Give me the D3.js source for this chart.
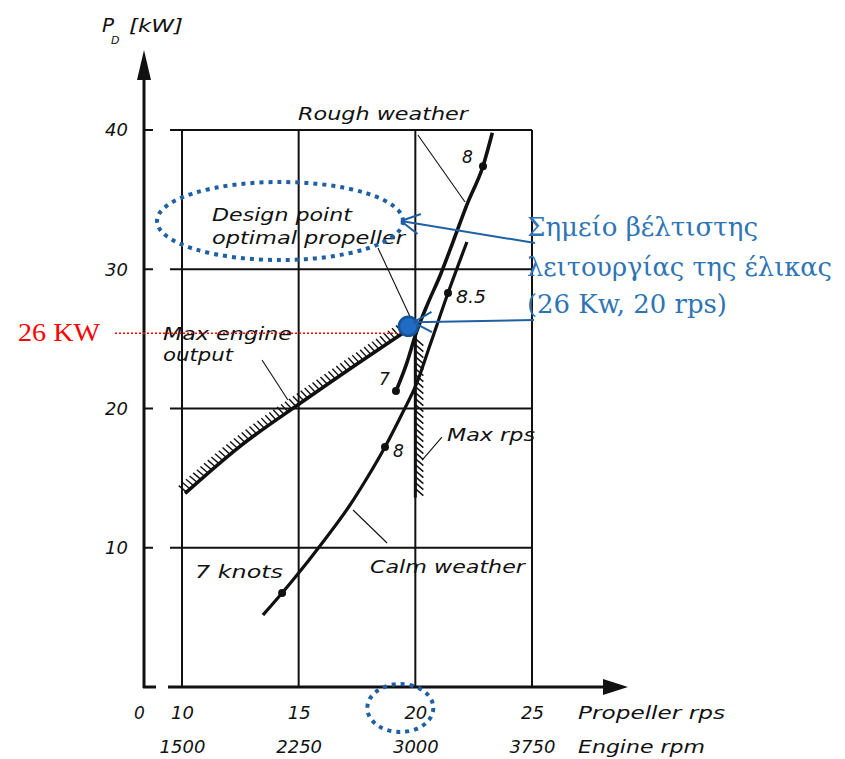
<!DOCTYPE html>
<html>
<head>
<meta charset="utf-8">
<script src="https://cdn.jsdelivr.net/npm/d3@7"></script>
<style>
  body { margin: 0; background: #fff; }
  .lbl { font-family: "DejaVu Sans", sans-serif; font-style: italic; font-size: 17px; fill: #111; }
  .tick text { font-family: "DejaVu Sans", sans-serif; font-style: italic; font-size: 18px; fill: #111; }
</style>
</head>
<body>
<svg id="chart" width="845" height="759"></svg>
<script>
// axis ticks
var rpsTicks = [10, 15, 20, 25];
var rpmLabels = ['1500', '2250', '3000', '3750'];
var kwTicks = [10, 20, 30, 40];

// propeller curves [rps, kW]
var calmWeather = [[13.47, 5.17], [14.29, 6.75], [14.93, 8.04], [15.91, 10.13], [17.2, 13.07], [17.93, 15.01],
  [18.7, 17.24], [19.47, 19.75], [20.03, 21.69], [20.63, 24.56], [21.4, 28.29], [22.21, 31.96]];
var roughWeather = [[19.17, 21.25], [19.6, 23.1], [20.05, 25.5], [20.55, 27.6], [21.05, 29.5], [21.6, 31.9],
  [22.25, 34.8], [22.9, 37.4], [23.3, 39.8]];
var maxEngineOutput = [[10.13, 13.9], [12.5, 17.3], [15.0, 20.3], [17.5, 23.2], [19.8, 25.8]];
var maxRpsLine = [[20, 13.6], [20, 26]];

// speed points (knots) on the curves
var calmDots = [[14.29, 6.75], [18.7, 17.24], [21.4, 28.29]];
var roughDots = [[19.17, 21.25], [22.9, 37.4]];

// annotation values
var designPoint = [19.7, 25.9];
var markedKw = 25.4;

var svg = d3.select('#chart');
var x = d3.scaleLinear().domain([10, 25]).range([182, 532]);
var y = d3.scaleLinear().domain([0, 40]).range([687, 130]);
var axisX = x(10) - 38;   // broken origin
var gapEnd = x(10) - 12;
var line = d3.line().x(function(d) { return x(d[0]); }).y(function(d) { return y(d[1]); });
var ink = '#111';

/**
 * Grid
 */
var grid = svg.append('g').attr('class', 'grid');
kwTicks.forEach(function(k) {
  grid.append('line').attr('x1', gapEnd).attr('x2', x(25)).attr('y1', y(k)).attr('y2', y(k))
    .attr('stroke', ink).attr('stroke-width', 2);
  grid.append('line').attr('x1', axisX).attr('x2', axisX + 9).attr('y1', y(k)).attr('y2', y(k))
    .attr('stroke', ink).attr('stroke-width', 2);
});
rpsTicks.forEach(function(r) {
  grid.append('line').attr('x1', x(r)).attr('x2', x(r)).attr('y1', y(40)).attr('y2', y(0))
    .attr('stroke', ink).attr('stroke-width', 2);
});

/**
 * Axes
 */
svg.append('line').attr('x1', axisX).attr('x2', axisX).attr('y1', y(0) + 1).attr('y2', 76)
  .attr('stroke', ink).attr('stroke-width', 3);
svg.append('polygon').attr('points', [[axisX, 50], [axisX - 7, 80], [axisX + 7, 80]].join(' ')).attr('fill', ink);
svg.append('line').attr('x1', axisX - 1).attr('x2', axisX + 12).attr('y1', y(0)).attr('y2', y(0))
  .attr('stroke', ink).attr('stroke-width', 3);
svg.append('line').attr('x1', gapEnd - 2).attr('x2', 606).attr('y1', y(0)).attr('y2', y(0))
  .attr('stroke', ink).attr('stroke-width', 3);
svg.append('polygon').attr('points', [[628, y(0)], [603, y(0) - 8], [603, y(0) + 8]].join(' ')).attr('fill', ink);

var yAxis = svg.append('g').attr('transform', 'translate(' + axisX + ',0)')
  .call(d3.axisLeft(y).tickValues(kwTicks).tickSize(0).tickPadding(16));
var xAxis = svg.append('g').attr('transform', 'translate(0,' + y(0) + ')')
  .call(d3.axisBottom(x).tickValues(rpsTicks).tickSize(0).tickPadding(19));
var rpmAxis = svg.append('g').attr('transform', 'translate(0,' + y(0) + ')')
  .call(d3.axisBottom(x).tickValues(rpsTicks).tickSize(0).tickPadding(53)
    .tickFormat(function(d, i) { return rpmLabels[i]; }));
[yAxis, xAxis, rpmAxis].forEach(function(a) { a.select('.domain').remove(); });

/**
 * Curves
 */
var smooth = d3.line().x(function(d) { return x(d[0]); }).y(function(d) { return y(d[1]); })
  .curve(d3.curveMonotoneX);
svg.append('path').datum(calmWeather)
  .attr('d', smooth).attr('fill', 'none').attr('stroke', ink).attr('stroke-width', 3.2);
svg.append('path').datum(roughWeather)
  .attr('d', smooth).attr('fill', 'none').attr('stroke', ink).attr('stroke-width', 3.6);
var engPath = svg.append('path').datum(maxEngineOutput)
  .attr('d', smooth).attr('fill', 'none').attr('stroke', ink).attr('stroke-width', 3.6);
var rpsPath = svg.append('path').datum(maxRpsLine)
  .attr('d', line).attr('fill', 'none').attr('stroke', ink).attr('stroke-width', 3);

function hatch(node, from, to, step, len, side, tilt) {
  var total = node.getTotalLength();
  var g = svg.append('g');
  for (var s = from; s < total - to; s += step) {
    var p = node.getPointAtLength(s), q = node.getPointAtLength(s + 1);
    var dx = q.x - p.x, dy = q.y - p.y, m = Math.hypot(dx, dy);
    dx /= m; dy /= m;
    g.append('line').attr('x1', p.x).attr('y1', p.y)
      .attr('x2', p.x + side * dy * len + dx * tilt)
      .attr('y2', p.y - side * dx * len + dy * tilt)
      .attr('stroke', ink).attr('stroke-width', 1.4);
  }
}
hatch(engPath.node(), 2, 4, 4.8, 10, 1, -1.5);
hatch(rpsPath.node(), 9, 10, 6, 8, -1, -7);

var dots = calmDots.concat(roughDots);
svg.selectAll('circle.knot').data(dots).enter().append('circle')
  .attr('class', 'knot').attr('cx', function(d) { return x(d[0]); }).attr('cy', function(d) { return y(d[1]); })
  .attr('r', 4).attr('fill', ink);

/**
 * Leader lines [rps, kW]
 */
var leaders = [
  [[20.11, 39.64], [22.13, 34.83]],
  [[18.40, 31.53], [19.77, 26.6]],
  [[13.43, 23.48], [14.54, 20.61]],
  [[21.14, 17.95], [20.29, 16.30]],
  [[18.79, 10.34], [17.33, 12.71]]
];
leaders.forEach(function(l) {
  svg.append('path').datum(l).attr('d', line)
    .attr('stroke', ink).attr('stroke-width', 1.1).attr('fill', 'none');
});

/**
 * Text labels
 */
var labels = [
  ['Rough weather', 298, 120, 170], ['Design point', 212, 221, 140], ['optimal propeller', 212, 244, 193],
  ['Max engine', 163, 340, 129], ['output', 163, 361, 70], ['Max rps', 447, 441, 88],
  ['Calm weather', 370, 573, 155], ['7 knots', 195, 578, 88], ['7', 379, 385], ['8', 393, 457],
  ['8.5', 456, 303, 30], ['8', 462, 163], ['[kW]', 129, 32, 54],
  ['Propeller rps', 578, 719, 147], ['Engine rpm', 578, 753, 127], ['0', axisX - 10, 719]
];
labels.forEach(function(l) {
  var t = svg.append('text').attr('class', 'lbl').attr('x', l[1]).attr('y', l[2]).text(l[0]);
  if (l[3]) t.attr('textLength', l[3]).attr('lengthAdjust', 'spacingAndGlyphs');
});
svg.append('text').attr('class', 'lbl').attr('x', 102).attr('y', 32).style('font-size', '20px').text('P');
svg.append('text').attr('class', 'lbl').attr('x', 111).attr('y', 44).style('font-size', '11px').text('D');

/**
 * Annotation overlay
 */
var blue = '#1f5fa3', textBlue = '#2e74b5';
svg.append('ellipse').attr('cx', 280).attr('cy', 221).attr('rx', 123).attr('ry', 39)
  .attr('fill', 'none').attr('stroke', blue).attr('stroke-width', 4).attr('stroke-dasharray', '4 5');
svg.append('ellipse').attr('cx', x(20) - 15).attr('cy', 708).attr('rx', 33).attr('ry', 24)
  .attr('fill', 'none').attr('stroke', blue).attr('stroke-width', 4).attr('stroke-dasharray', '4 5');

svg.append('line').attr('x1', 115).attr('x2', x(designPoint[0]) - 8).attr('y1', y(markedKw)).attr('y2', y(markedKw))
  .attr('stroke', '#ff0000').attr('stroke-width', 1.6).attr('stroke-dasharray', '2 2');
svg.append('text').attr('x', 18).attr('y', 341).attr('textLength', 82).attr('lengthAdjust', 'spacingAndGlyphs')
  .style('font-family', '"Liberation Serif", serif').style('font-size', '26px').attr('fill', '#ff0000').text('26 KW');

svg.append('circle').attr('cx', x(designPoint[0])).attr('cy', y(designPoint[1])).attr('r', 9.5)
  .attr('fill', '#1e6cc4').attr('stroke', '#155399').attr('stroke-width', 2.5);

function arrow(x1, y1, x2, y2) {
  var a = Math.atan2(y1 - y2, x1 - x2), h = 21, w = 0.5;
  svg.append('line').attr('x1', x1).attr('y1', y1).attr('x2', x2).attr('y2', y2)
    .attr('stroke', blue).attr('stroke-width', 2);
  [a - w, a + w].forEach(function(b) {
    svg.append('line').attr('x1', x2).attr('y1', y2)
      .attr('x2', x2 + h * Math.cos(b)).attr('y2', y2 + h * Math.sin(b))
      .attr('stroke', blue).attr('stroke-width', 2);
  });
}
arrow(535, 243, 401, 221);
arrow(534, 320, x(designPoint[0]) + 5, y(designPoint[1]) - 4);

var greek = [['Σημείο βέλτιστης', 236, 231], ['λειτουργίας της έλικας', 276, 305], ['(26 Kw, 20 rps)', 313, 200]];
greek.forEach(function(g) {
  svg.append('text').attr('x', 527).attr('y', g[1]).attr('textLength', g[2]).attr('lengthAdjust', 'spacingAndGlyphs')
    .style('font-family', '"DejaVu Serif", serif').style('font-size', '26px').attr('fill', textBlue).text(g[0]);
});
</script>
</body>
</html>
